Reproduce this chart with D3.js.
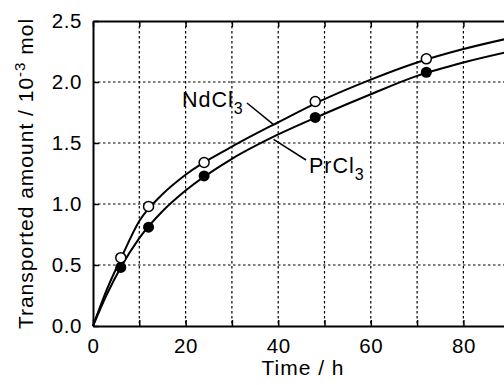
<!DOCTYPE html>
<html>
<head>
<meta charset="utf-8">
<script src="https://cdn.jsdelivr.net/npm/d3@7"></script>
<style>
  body { margin: 0; background: #fff; }
  svg { display: block; font-family: "Liberation Sans", Arial, sans-serif; }
</style>
</head>
<body>
<div id="chart"></div>
<script>
// Points mesurés (h, 10^-3 mol)
let times = [6, 12, 24, 48, 72];
let ndPoints = [0.56, 0.98, 1.34, 1.84, 2.19];
let prPoints = [0.48, 0.81, 1.23, 1.71, 2.08];

// Courbes lissées
let curveTimes = [0, 3, 6, 10, 15, 20, 30, 40, 50, 60, 70, 80, 90];
let ndCurve = [0, 0.30, 0.55, 0.86, 1.08, 1.24, 1.47, 1.67, 1.86, 2.02, 2.16, 2.27, 2.36];
let prCurve = [0, 0.26, 0.48, 0.72, 0.94, 1.11, 1.37, 1.57, 1.74, 1.90, 2.05, 2.16, 2.25];

let xTicks = [0, 20, 40, 60, 80];
let xGrid = [10, 20, 30, 40, 50, 60, 70, 80];
let yTicks = [0, 0.5, 1.0, 1.5, 2.0, 2.5];

let W = 504, H = 385;
let margins = { left: 93, top: 21, bottom: 59 };
let plotBottom = H - margins.bottom;

let svg = d3.select("#chart")
            .append("svg")
            .attr("width", W)
            .attr("height", H);

let xScale = d3.scaleLinear()
               .domain([0, 90])
               .range([margins.left, margins.left + 90 * 4.63]);

let yScale = d3.scaleLinear()
               .domain([0, 2.5])
               .range([plotBottom, margins.top]);

// Grille pointillée
svg.append("g")
   .selectAll("line")
   .data(xGrid)
   .enter()
   .append("line")
   .attr("x1", d => xScale(d))
   .attr("x2", d => xScale(d))
   .attr("y1", yScale(2.5))
   .attr("y2", yScale(0))
   .attr("stroke", "#000")
   .attr("stroke-width", 1.2)
   .attr("stroke-dasharray", "2.5,2.5");

svg.append("g")
   .selectAll("line")
   .data(yTicks.slice(1, 5))
   .enter()
   .append("line")
   .attr("x1", xScale(0))
   .attr("x2", W)
   .attr("y1", d => yScale(d))
   .attr("y2", d => yScale(d))
   .attr("stroke", "#000")
   .attr("stroke-width", 1.2)
   .attr("stroke-dasharray", "2.5,2.5");

// Axes
let xAxis = svg.append("g")
               .attr("transform", `translate(0,${plotBottom})`)
               .call(d3.axisBottom(xScale).tickValues(d3.range(0, 91, 10))
                       .tickSizeInner(-6).tickSizeOuter(0).tickPadding(12)
                       .tickFormat(d => xTicks.includes(d) ? d : ""));

let xTop = svg.append("g")
              .attr("transform", `translate(0,${margins.top})`)
              .call(d3.axisTop(xScale).tickValues(d3.range(0, 91, 10))
                      .tickSizeInner(-6).tickSizeOuter(0).tickFormat(""));

let yAxis = svg.append("g")
               .attr("transform", `translate(${margins.left},0)`)
               .call(d3.axisLeft(yScale).tickValues(yTicks)
                       .tickSizeInner(-6).tickSizeOuter(0).tickPadding(11)
                       .tickFormat(d3.format(".1f")));

[xAxis, xTop, yAxis].forEach(g => {
  g.select(".domain").attr("stroke", "#000").attr("stroke-width", 2);
  g.selectAll(".tick line").attr("stroke", "#000").attr("stroke-width", 1.5);
  g.selectAll(".tick text")
   .attr("fill", "#000")
   .style("font-size", "20.5px")
   .style("letter-spacing", "0.6px")
   .style("font-family", "Liberation Sans, Arial, sans-serif");
});
xAxis.selectAll(".tick text").attr("dy", "0.71em");

// Courbes
let line = d3.line()
             .x((d, i) => xScale(curveTimes[i]))
             .y(d => yScale(d))
             .curve(d3.curveMonotoneX);

[ndCurve, prCurve].forEach(c => {
  svg.append("path")
     .attr("d", line(c))
     .attr("fill", "none")
     .attr("stroke", "#000")
     .attr("stroke-width", 2);
});

// Points
svg.append("g")
   .selectAll("circle")
   .data(ndPoints)
   .enter()
   .append("circle")
   .attr("cx", (d, i) => xScale(times[i]))
   .attr("cy", d => yScale(d))
   .attr("r", 5)
   .attr("fill", "#fff")
   .attr("stroke", "#000")
   .attr("stroke-width", 1.5);

svg.append("g")
   .selectAll("circle")
   .data(prPoints)
   .enter()
   .append("circle")
   .attr("cx", (d, i) => xScale(times[i]))
   .attr("cy", d => yScale(d))
   .attr("r", 5.5)
   .attr("fill", "#000");

// Étiquettes des séries
let ndLabel = svg.append("text")
                 .attr("x", 182)
                 .attr("y", 107)
                 .style("font-size", "21.5px")
                 .style("letter-spacing", "1px");
ndLabel.append("tspan").text("NdCl");
ndLabel.append("tspan").attr("dy", 7).style("font-size", "16px").text("3");

let prLabel = svg.append("text")
                 .attr("x", 309)
                 .attr("y", 173)
                 .style("font-size", "21.5px")
                 .style("letter-spacing", "1px");
prLabel.append("tspan").text("PrCl");
prLabel.append("tspan").attr("dy", 7).style("font-size", "16px").text("3");

svg.append("line")
   .attr("x1", 247).attr("y1", 103)
   .attr("x2", xScale(39)).attr("y2", yScale(1.65))
   .attr("stroke", "#000").attr("stroke-width", 1.5);

svg.append("line")
   .attr("x1", xScale(39)).attr("y1", yScale(1.53))
   .attr("x2", 306).attr("y2", 160)
   .attr("stroke", "#000").attr("stroke-width", 1.5);

// Titres des axes
svg.append("text")
   .attr("x", 303)
   .attr("y", 375)
   .attr("text-anchor", "middle")
   .style("font-size", "21px")
   .style("letter-spacing", "1px")
   .text("Time / h");

let yTitle = svg.append("text")
                .attr("transform", `translate(33,${(margins.top + plotBottom) / 2}) rotate(-90)`)
                .attr("text-anchor", "middle")
                .style("font-size", "21px")
                .style("letter-spacing", "1px");
yTitle.append("tspan").text("Transported amount / 10");
yTitle.append("tspan").attr("dy", -8).style("font-size", "15px").text("-3");
yTitle.append("tspan").attr("dy", 8).text(" mol");
</script>
</body>
</html>
